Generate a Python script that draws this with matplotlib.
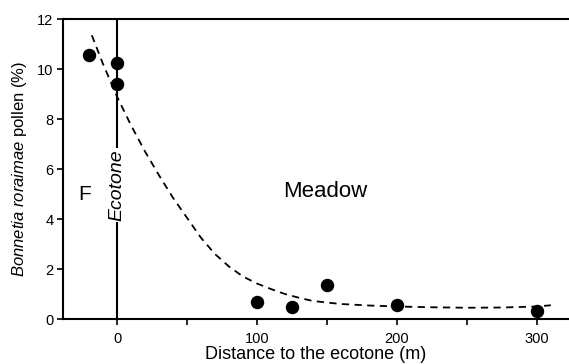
import numpy as np
import matplotlib
matplotlib.use("Agg")
from matplotlib import pyplot as plt

plt.rcParams['font.family'] = ['Liberation Sans', 'DejaVu Sans']
plt.rcParams['mathtext.fontset'] = 'custom'
plt.rcParams['mathtext.it'] = 'Liberation Sans:italic'
plt.rcParams['mathtext.rm'] = 'Liberation Sans'

# observed pollen percentages
dist = [-20, 0, 0, 100, 125, 150, 200, 300]
pollen = [10.55, 10.25, 9.4, 0.67, 0.48, 1.35, 0.56, 0.32]

# fitted curve
fit_x = [-18, -10, 0, 10, 20, 30, 40, 50, 60, 70, 80, 90, 100, 110, 120,
         130, 140, 160, 180, 200, 225, 250, 275, 300, 310]
fit_y = [11.35, 10.2, 8.9, 7.75, 6.7, 5.75, 4.85, 4.05, 3.25, 2.6, 2.1, 1.7,
         1.42, 1.2, 1.0, 0.85, 0.72, 0.6, 0.54, 0.5, 0.47, 0.45, 0.46, 0.5, 0.55]

xticks = [0, 50, 100, 150, 200, 250, 300]
xticklabels = ['0', '', '100', '', '200', '', '300']
yticks = [0, 2, 4, 6, 8, 10, 12]

fig = plt.figure(figsize=(5.69, 3.64), dpi=100)
ax = fig.add_axes([0.1107, 0.1236, 0.8893, 0.8242])

ax.axvline(0, color='black', lw=1.5, zorder=1)
ax.plot(fit_x, fit_y, color='black', lw=1.3, ls=(0, (4, 3)), zorder=2)
ax.scatter(dist, pollen, s=75, color='black', zorder=3)

ax.text(0, 5.35, 'Ecotone', rotation=90, style='italic', fontsize=14,
        ha='center', va='center', zorder=4,
        bbox=dict(facecolor='white', edgecolor='none', pad=1))
ax.text(-23, 5.0, 'F', fontsize=15, ha='center', va='center')
ax.text(149, 5.1, 'Meadow', fontsize=16, ha='center', va='center')

ax.set_xlim(-38.6, 323)
ax.set_ylim(0, 12)
ax.set_xticks(xticks)
ax.set_xticklabels(xticklabels)
ax.set_yticks(yticks)
ax.tick_params(direction='out', length=4, width=1.2, labelsize=10.5, pad=3)
ax.tick_params(axis='x', pad=5)
for s in ['left', 'bottom', 'top']:
    ax.spines[s].set_linewidth(1.5)
ax.spines['right'].set_visible(False)

ax.set_xlabel('Distance to the ecotone (m)', fontsize=13, labelpad=0)
ax.set_ylabel(r'$\it{Bonnetia\ roraimae}$ pollen (%)', fontsize=12, labelpad=6)

plt.savefig('out.png', dpi=100)
